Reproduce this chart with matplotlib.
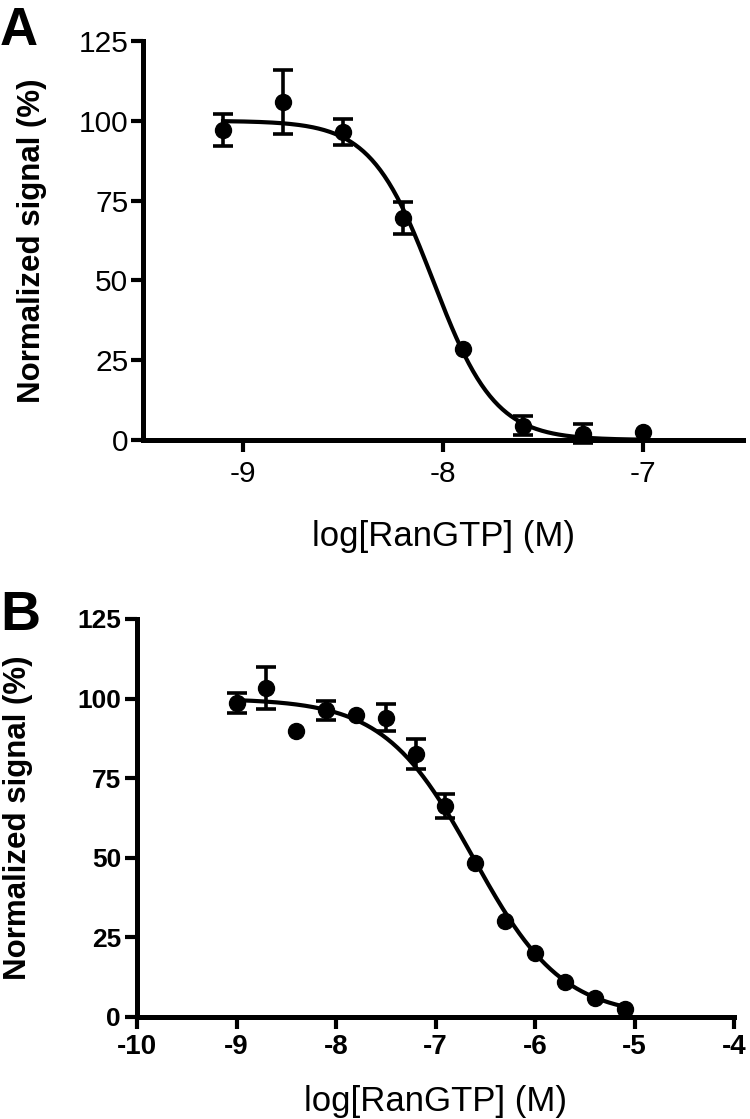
import numpy as np
import matplotlib
matplotlib.use("Agg")
import matplotlib.pyplot as plt

plt.rcParams['font.family'] = ['Liberation Sans', 'DejaVu Sans']
plt.rcParams['axes.unicode_minus'] = False

# ---- panel A data (log M, % signal, SEM) ----
a_x = [-9.1, -8.8, -8.5, -8.2, -7.9, -7.6, -7.3, -7.0]
a_y = [97.0, 106.0, 96.5, 69.5, 28.5, 4.5, 2.0, 2.5]
a_err = [5.0, 10.0, 4.0, 5.0, 0.0, 3.0, 3.0, 0.0]
# fitted sigmoid: top, bottom, logIC50, hill slope
a_fit = [100.0, 0.0, -8.05, 2.8]

# ---- panel B data ----
b_x = [-9.0, -8.7, -8.4, -8.1, -7.8, -7.5, -7.2, -6.9, -6.6, -6.3, -6.0, -5.7, -5.4, -5.1]
b_y = [98.6, 103.4, 89.9, 96.3, 94.7, 94.0, 82.5, 66.3, 48.5, 30.0, 20.0, 11.1, 6.0, 2.5]
b_err = [3.2, 6.6, 0.0, 3.0, 0.0, 4.2, 4.7, 3.7, 0.0, 0.0, 0.0, 0.0, 0.0, 0.0]
b_fit = [100.0, 0.0, -6.62, 0.97]

y_ticks = [0, 25, 50, 75, 100, 125]
a_xticks = [-9, -8, -7]
b_xticks = [-10, -9, -8, -7, -6, -5, -4]

x_label = "log[RanGTP] (M)"
y_label = "Normalized signal (%)"


def sigmoid(x, p):
    top, bottom, logic50, hill = p
    return bottom + (top - bottom) / (1 + 10 ** ((x - logic50) * hill))


def draw_panel(ax, x, y, err, fit, tick_weight, xsize, ysize):
    x, y, err = np.array(x), np.array(y), np.array(err)
    xc = np.linspace(x.min(), x.max(), 300)
    ax.plot(xc, sigmoid(xc, fit), color="black", lw=3.0, zorder=2, clip_on=False)
    has = err > 0
    ax.errorbar(x[has], y[has], yerr=err[has], fmt="none", ecolor="black",
                elinewidth=2.6, capsize=7, capthick=2.6, zorder=3, clip_on=False)
    ax.plot(x, y, "o", color="black", ms=11.5, zorder=4, clip_on=False)

    for s in ["top", "right"]:
        ax.spines[s].set_visible(False)
    for s in ["left", "bottom"]:
        ax.spines[s].set_linewidth(3.6)
    ax.tick_params(axis="both", direction="out", length=8.5, width=3.0)
    ax.tick_params(axis="y", pad=2)
    ax.set_ylim(0, 125)
    ax.set_yticks(y_ticks)
    for lab in ax.get_xticklabels():
        lab.set_fontsize(xsize)
        lab.set_fontweight(tick_weight)
    for lab in ax.get_yticklabels():
        lab.set_fontsize(ysize)
        lab.set_fontweight(tick_weight)


fig = plt.figure(figsize=(7.5, 11.19), dpi=100)
H = 1119.0
W = 750.0

# Panel A
axA = fig.add_axes([143 / W, (H - 440) / H, 600 / W, 399 / H])
axA.set_xlim(-9.5, -6.5)
axA.set_xticks(a_xticks)
draw_panel(axA, a_x, a_y, a_err, a_fit, "normal", 21.5, 21.5)
axA.tick_params(axis="x", pad=6)
axA.set_xlabel(x_label, fontsize=25)
axA.xaxis.set_label_coords(0.5, -0.2)
axA.set_ylabel(y_label, fontsize=22.5, fontweight="bold")
axA.yaxis.set_label_coords(-0.16, 0.5)

# Panel B
axB = fig.add_axes([137 / W, (H - 1017) / H, 597 / W, 398 / H])
axB.set_xlim(-10, -4)
axB.set_xticks(b_xticks)
draw_panel(axB, b_x, b_y, b_err, b_fit, "bold", 20, 19)
axB.tick_params(axis="x", pad=4)
axB.tick_params(axis="y", pad=3)
axB.set_xlabel(x_label, fontsize=25)
axB.xaxis.set_label_coords(0.5, -0.17)
axB.set_ylabel(y_label, fontsize=22.5, fontweight="bold")
axB.yaxis.set_label_coords(-0.174, 0.5)

# panel letters
fig.text(0.0, 1 - 45 / H, "A", fontsize=38, fontweight="bold", va="baseline")
fig.text(0.0, 1 - 630 / H, "B", fontsize=40, fontweight="bold", va="baseline")

fig.savefig("out.png", dpi=100)
